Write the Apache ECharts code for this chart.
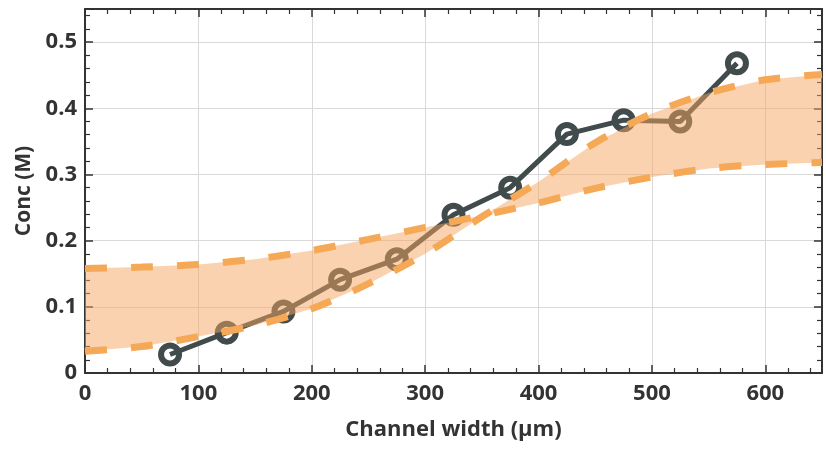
<!DOCTYPE html>
<html>
<head>
<meta charset="utf-8">
<script src="https://cdn.jsdelivr.net/npm/echarts@6/dist/echarts.min.js"></script>
<style>
html,body{margin:0;padding:0;background:#fff;}
#chart{width:826px;height:450px;}
</style>
</head>
<body>
<div id="chart"></div>
<script>
// Measured data (channel width in µm, concentration in M)
const widths = [75, 125, 175, 225, 275, 325, 375, 425, 475, 525, 575];
const conc = [0.028, 0.061, 0.093, 0.141, 0.172, 0.239, 0.280, 0.361, 0.382, 0.380, 0.468];

// Model band boundaries
const bandX = [0, 50, 100, 150, 200, 250, 300, 350, 400, 450, 500, 550, 600, 650];
const curveShallow = [0.158, 0.160, 0.164, 0.172, 0.185, 0.202, 0.220, 0.238, 0.257, 0.279, 0.296, 0.309, 0.315, 0.318];
const curveSteep = [0.033, 0.040, 0.055, 0.072, 0.097, 0.135, 0.180, 0.236, 0.289, 0.348, 0.392, 0.423, 0.443, 0.451];

const xTicks = [0, 100, 200, 300, 400, 500, 600];
const yTicks = [0, 0.1, 0.2, 0.3, 0.4, 0.5];

const FONT = '"Open Sans", "Liberation Sans", sans-serif';
const AX = '#333333';
const DARK = '#414b4b';
const ORANGE = '#f5a956';

const pairs = (xs, ys) => xs.map((x, i) => [x, ys[i]]);

const chart = echarts.init(document.getElementById('chart'), null, {renderer: 'canvas'});

const tickCommon = {show: true, inside: true, length: 8, lineStyle: {color: AX, width: 1.5}};
const minorCommon = {show: true, splitNumber: 5, length: 5, lineStyle: {color: AX, width: 1.2}};

chart.setOption({
  animation: false,
  backgroundColor: '#ffffff',
  grid: {left: 85, right: 4, top: 9, bottom: 77, containLabel: false},
  xAxis: [{
    type: 'value', min: 0, max: 650, interval: 100, position: 'bottom',
    name: 'Channel width (µm)', nameLocation: 'middle', nameGap: 46,
    nameTextStyle: {fontFamily: FONT, fontWeight: 'bold', fontSize: 22, color: AX},
    axisLine: {show: true, onZero: false, lineStyle: {color: AX, width: 2}},
    axisTick: tickCommon, minorTick: minorCommon,
    axisLabel: {fontFamily: FONT, fontWeight: 'bold', fontSize: 22, color: AX, margin: 10,
      formatter: v => xTicks.indexOf(v) >= 0 ? String(v) : ''},
    splitLine: {show: true, lineStyle: {color: '#d9d9d9', width: 1}},
    minorSplitLine: {show: false}
  }, {
    type: 'value', min: 0, max: 650, interval: 100, position: 'top',
    axisLine: {show: true, onZero: false, lineStyle: {color: AX, width: 2}},
    axisTick: tickCommon, minorTick: minorCommon,
    axisLabel: {show: false}, splitLine: {show: false}
  }],
  yAxis: [{
    type: 'value', min: 0, max: 0.55, interval: 0.1, position: 'left',
    name: 'Conc (M)', nameLocation: 'middle', nameGap: 50, nameRotate: 90,
    nameTextStyle: {fontFamily: FONT, fontWeight: 'bold', fontSize: 21, color: AX},
    axisLine: {show: true, onZero: false, lineStyle: {color: AX, width: 2}},
    axisTick: tickCommon, minorTick: minorCommon,
    axisLabel: {fontFamily: FONT, fontWeight: 'bold', fontSize: 22, color: AX, margin: 8,
      formatter: v => { const k = yTicks.findIndex(t => Math.abs(t - v) < 1e-9); return k >= 0 ? (k === 0 ? '0' : yTicks[k].toFixed(1)) : ''; }},
    splitLine: {show: true, lineStyle: {color: '#d9d9d9', width: 1}}
  }, {
    type: 'value', min: 0, max: 0.55, interval: 0.1, position: 'right',
    axisLine: {show: true, onZero: false, lineStyle: {color: AX, width: 2}},
    axisTick: tickCommon, minorTick: minorCommon,
    axisLabel: {show: false}, splitLine: {show: false}
  }],
  series: [
    {
      name: 'Measured', type: 'line', z: 2,
      data: pairs(widths, conc),
      symbol: 'circle', symbolSize: 18,
      lineStyle: {color: DARK, width: 5},
      itemStyle: {color: 'rgba(0,0,0,0)', borderColor: DARK, borderWidth: 6}
    },
    {
      name: 'Band', type: 'custom', z: 3,
      data: [[0, 0]],
      renderItem: function (params, api) {
        const pts = [];
        for (let i = 0; i < bandX.length; i++) pts.push(api.coord([bandX[i], curveShallow[i]]));
        for (let i = bandX.length - 1; i >= 0; i--) pts.push(api.coord([bandX[i], curveSteep[i]]));
        return {
          type: 'polygon',
          shape: {points: pts},
          style: {fill: 'rgba(245,166,95,0.5)', stroke: 'none'}
        };
      },
      silent: true
    },
    {
      name: 'Upper', type: 'line', z: 4, smooth: 0.3, symbol: 'none',
      data: pairs(bandX, curveShallow),
      lineStyle: {color: ORANGE, width: 7, type: [22, 24]}
    },
    {
      name: 'Lower', type: 'line', z: 4, smooth: 0.3, symbol: 'none',
      data: pairs(bandX, curveSteep),
      lineStyle: {color: ORANGE, width: 7, type: [22, 24]}
    }
  ]
});
</script>
</body>
</html>
